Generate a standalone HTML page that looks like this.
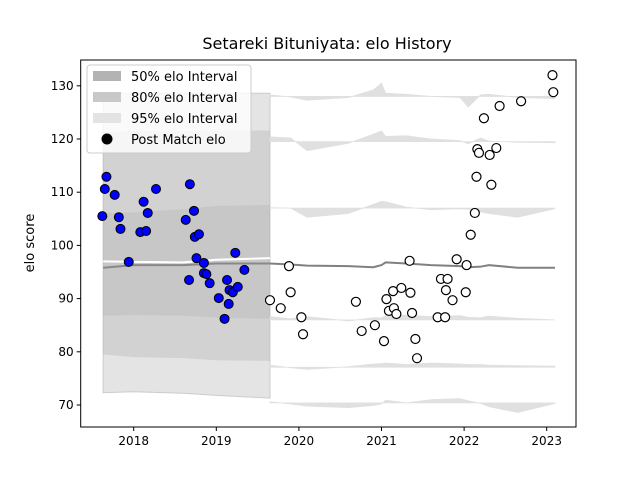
<!DOCTYPE html>
<html><head><meta charset="utf-8"><style>
body{margin:0;background:#fff;}
svg{font-family:"DejaVu Sans","Liberation Sans",sans-serif;}
</style></head><body>
<svg id="chart" width="640" height="480" viewBox="0 0 640 480" xmlns="http://www.w3.org/2000/svg">
<rect width="640" height="480" fill="#fff"/>
<text x="327" y="49" font-size="16" text-anchor="middle">Setareki Bituniyata: elo History</text>
<g id="bands"></g>
<g id="lines"></g>
<g id="points"></g>
<g id="axes"></g>
<text transform="translate(34,243) rotate(-90)" font-size="13" text-anchor="middle">elo score</text>
<g>
<rect x="87" y="65" width="164" height="88" rx="3" fill="#fff" fill-opacity="0.8" stroke="#ccc"/>
<rect x="93" y="71" width="28" height="10" fill="#b3b3b3"/>
<text x="131" y="81" font-size="13">50% elo Interval</text>
<rect x="93" y="92" width="28" height="10" fill="#c8c8c8"/>
<text x="131" y="102" font-size="13">80% elo Interval</text>
<rect x="93" y="113" width="28" height="10" fill="#e3e3e3"/>
<text x="131" y="123" font-size="13">95% elo Interval</text>
<circle cx="107" cy="139" r="5.5" fill="#000"/>
<text x="131" y="144" font-size="13">Post Match elo</text>
</g>
</svg>
<script>
const NS="http://www.w3.org/2000/svg";
// data
const blueDates=[2017.67,2017.65,2017.77,2017.62,2017.82,2017.84,2017.94,2018.12,2018.27,2018.17,2018.08,2018.15,2018.68,2018.73,2018.63,2018.74,2018.79,2018.76,2018.85,2018.67,2018.85,2018.88,2018.92,2019.23,2019.34,2019.13,2019.16,2019.20,2019.26,2019.03,2019.15,2019.10];
const blueElo=[112.9,110.6,109.5,105.5,105.3,103.1,96.9,108.2,110.6,106.1,102.5,102.7,111.5,106.5,104.8,101.6,102.1,97.6,96.7,93.5,94.8,94.6,92.9,98.6,95.4,93.5,91.6,91.2,92.2,90.1,89.0,86.2];
const openDates=[2023.07,2023.08,2022.69,2022.43,2022.24,2022.16,2022.18,2022.31,2022.39,2022.15,2022.33,2022.13,2022.08,2021.91,2022.03,2021.34,2019.88,2019.65,2019.78,2019.90,2020.03,2020.05,2020.69,2020.76,2020.92,2021.03,2021.06,2021.09,2021.14,2021.15,2021.18,2021.24,2021.35,2021.37,2021.41,2021.43,2021.72,2021.80,2021.78,2021.86,2021.68,2021.77,2022.02];
const openElo=[132.0,128.8,127.1,126.2,123.9,118.1,117.4,117.0,118.3,112.9,111.4,106.1,102.0,97.4,96.3,97.1,96.1,89.7,88.2,91.2,86.5,83.3,89.4,83.9,85.0,82.0,89.9,87.7,91.4,88.2,87.1,92.0,91.1,87.3,82.4,78.8,93.7,93.7,91.6,89.7,86.5,86.5,91.2];
const xTicks=[2018,2019,2020,2021,2022,2023];
const yTicks=[70,80,90,100,110,120,130];
// left history block intervals
const histDates=[2017.63,2018.0,2018.6,2019.0,2019.65];
const hist95lo=[72.3,72.5,72.2,71.8,71.3];
const hist95hi=[128.5,128.6,128.6,128.6,128.6];
const hist80lo=[79.5,79.0,78.8,78.4,78.3];
const hist80hi=[121.3,121.5,121.5,121.6,121.6];
const hist50lo=[86.8,86.9,86.8,86.4,86.2];
const hist50hi=[106.1,106.2,106.8,107.4,107.6];
const histWhite=[97.0,96.9,96.8,97.3,97.6];
const histGray=[95.8,96.3,96.3,96.6,96.6];
// right side projection bands
const projDates=[2019.65,2019.9,2020.1,2020.6,2020.9,2021.0,2021.05,2021.3,2021.6,2021.95,2022.05,2022.2,2022.3,2022.65,2023.1];
const projBase=[128.0,119.5,107.0,86.0,77.1,70.4];
const projEdges=[
 [128.3,127.9,127.3,127.8,129.2,130.5,128.6,128.4,128.0,127.8,126.0,128.3,128.4,127.8,127.6],
 [120.4,120.2,117.8,119.2,120.9,121.5,120.5,120.6,120.0,119.7,119.1,120.2,119.6,119.4,119.3],
 [107.1,107.0,105.3,106.0,107.7,108.3,108.2,107.2,106.7,106.9,106.8,106.3,106.0,105.3,106.9],
 [86.6,86.2,86.6,85.8,86.4,86.4,86.8,86.9,86.6,86.8,86.5,86.4,86.7,86.3,86.0],
 [77.5,77.0,76.7,77.2,77.7,77.8,77.9,77.6,77.9,77.7,77.6,77.6,77.5,77.4,77.3],
 [70.6,70.2,69.8,69.5,69.9,70.2,70.9,70.4,71.0,71.2,70.8,70.3,69.7,68.6,70.3]
];
const projMean=[96.6,96.4,96.2,96.1,95.9,96.3,96.8,96.6,96.3,96.1,95.9,96.0,96.3,95.8,95.8];
// scales
const X0=80.7,X1=576,Y0=60,Y1=427;
function sx(d){return 133.7+(d-2018)*82.6;}
function sy(v){return 405-(v-70)*5.32;}
function el(t,a,p){const e=document.createElementNS(NS,t);for(const k in a)e.setAttribute(k,a[k]);(p||document.getElementById('chart')).appendChild(e);return e;}
function areaPath(ds,lo,hi){let s='';ds.forEach((d,i)=>{s+=(i?'L':'M')+sx(d)+','+sy(hi[i]);});for(let i=ds.length-1;i>=0;i--)s+='L'+sx(ds[i])+','+sy(lo[i]);return s+'Z';}
function linePath(ds,v){return ds.map((d,i)=>(i?'L':'M')+sx(d)+','+sy(v[i])).join('');}
const B=document.getElementById('bands');
let p;
p=el('path',{d:areaPath(histDates,hist95lo,hist95hi),fill:'#bbb','fill-opacity':0.4,stroke:'#ccc'},B);

p=el('path',{d:areaPath(histDates,hist80lo,hist80hi),fill:'#aaa','fill-opacity':0.3},B);

p=el('path',{d:areaPath(histDates,hist50lo,hist50hi),fill:'#999','fill-opacity':0.2},B);

projEdges.forEach((edge,k)=>{
 const base=projDates.map(()=>projBase[k]);
 const q=el('path',{d:areaPath(projDates,base,edge),fill:'#e0e0e0',stroke:'#e0e0e0','stroke-width':0.8},B);
 
 
});
const L=document.getElementById('lines');
p=el('path',{d:linePath(histDates,histGray),fill:'none',stroke:'#888','stroke-width':2},L);

p=el('path',{d:linePath(histDates,histWhite),fill:'none',stroke:'#fff','stroke-width':2},L);

p=el('path',{d:linePath(projDates,projMean),fill:'none',stroke:'#808080','stroke-width':2},L);

const P=document.getElementById('points');
blueDates.forEach((d,i)=>{const c=el('circle',{cx:sx(d),cy:sy(blueElo[i]),r:4.5,fill:'#0000ff',stroke:'#000','stroke-width':1},P);

});
openDates.forEach((d,i)=>{const c=el('circle',{cx:sx(d),cy:sy(openElo[i]),r:4.5,fill:'#fff',stroke:'#000','stroke-width':1.2},P);

});
const A=document.getElementById('axes');
el('rect',{x:X0,y:Y0,width:X1-X0,height:Y1-Y0,fill:'none',stroke:'#000','stroke-width':1},A);
xTicks.forEach(t=>{el('line',{x1:sx(t),x2:sx(t),y1:Y1,y2:Y1+4,stroke:'#000'},A);
const tx=el('text',{x:sx(t),y:Y1+18,'font-size':12,'text-anchor':'middle'},A);tx.textContent=t;

});
yTicks.forEach(t=>{el('line',{x1:X0-4,x2:X0,y1:sy(t),y2:sy(t),stroke:'#000'},A);
const tx=el('text',{x:X0-7,y:sy(t)+4,'font-size':12,'text-anchor':'end'},A);tx.textContent=t;

});
</script>
</body></html>
